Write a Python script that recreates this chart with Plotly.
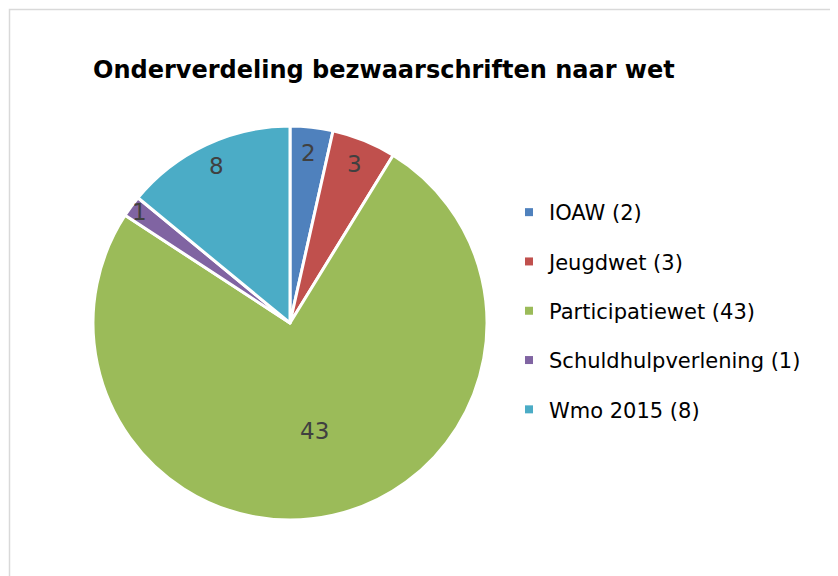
import math
import plotly.graph_objects as go

labels = ['IOAW', 'Jeugdwet', 'Participatiewet', 'Schuldhulpverlening', 'Wmo 2015']
values = [2, 3, 43, 1, 8]
colors = ['#4F81BD', '#C0504D', '#9BBB59', '#8064A2', '#4BACC6']
# how far out (fraction of the radius) each data label sits
label_r = [0.87, 0.87, 0.56, 0.95, 0.88]

# the page puts the figure 8px in from the top-left corner
OFF = 8
W, H = 838 - OFF, 576 - OFF
cx, cy, R = 290 - OFF, 323 - OFF, 197

fig = go.Figure()
fig.add_trace(go.Pie(
    labels=labels, values=values, sort=False, direction='clockwise', rotation=0,
    marker=dict(colors=colors, line=dict(color='white', width=3)),
    textinfo='none', hoverinfo='label+value', showlegend=False,
    domain=dict(x=[(cx - R) / W, (cx + R) / W], y=[1 - (cy + R) / H, 1 - (cy - R) / H]),
))

# legend entries as dummy traces so the row gap can be set
for lab, val, col in zip(labels, values, colors):
    fig.add_trace(go.Scatter(
        x=[None], y=[None], mode='markers', name=f'{lab} ({val})',
        legendgroup=lab,
        marker=dict(symbol='square', size=8, color=col),
    ))

# data labels, placed at the middle angle of each slice
total = sum(values)
cum = 0
for val, fr in zip(values, label_r):
    mid = (cum + val / 2) / total * 2 * math.pi
    cum += val
    px = cx + fr * R * math.sin(mid)
    py = cy - fr * R * math.cos(mid)
    fig.add_annotation(x=px / W, y=1 - py / H, xref='paper', yref='paper',
                       xanchor='center', yanchor='middle',
                       text=str(val), showarrow=False,
                       font=dict(family='DejaVu Sans', size=23, color='#404040'))

fig.add_shape(type='rect', xref='paper', yref='paper',
              x0=1.5 / W, x1=1.05, y0=-0.05, y1=1 - 1.5 / H,
              line=dict(color='#D9D9D9', width=1.5))

fig.update_layout(
    width=W, height=H,
    margin=dict(l=0, r=0, t=0, b=0),
    paper_bgcolor='white', plot_bgcolor='white',
    title=dict(text='<b>Onderverdeling bezwaarschriften naar wet</b>',
               x=(93 - OFF) / W, xanchor='left', y=1 - (70 - OFF) / H, yanchor='middle',
               font=dict(family='DejaVu Sans', size=24, color='black')),
    xaxis=dict(visible=False), yaxis=dict(visible=False),
    legend=dict(x=(509 - OFF) / W, xanchor='left', y=1 - (192 - OFF) / H, yanchor='top',
                traceorder='grouped', tracegroupgap=19,
                font=dict(family='DejaVu Sans', size=21, color='black'),
                itemwidth=30),
)

fig.write_html("out.html")
